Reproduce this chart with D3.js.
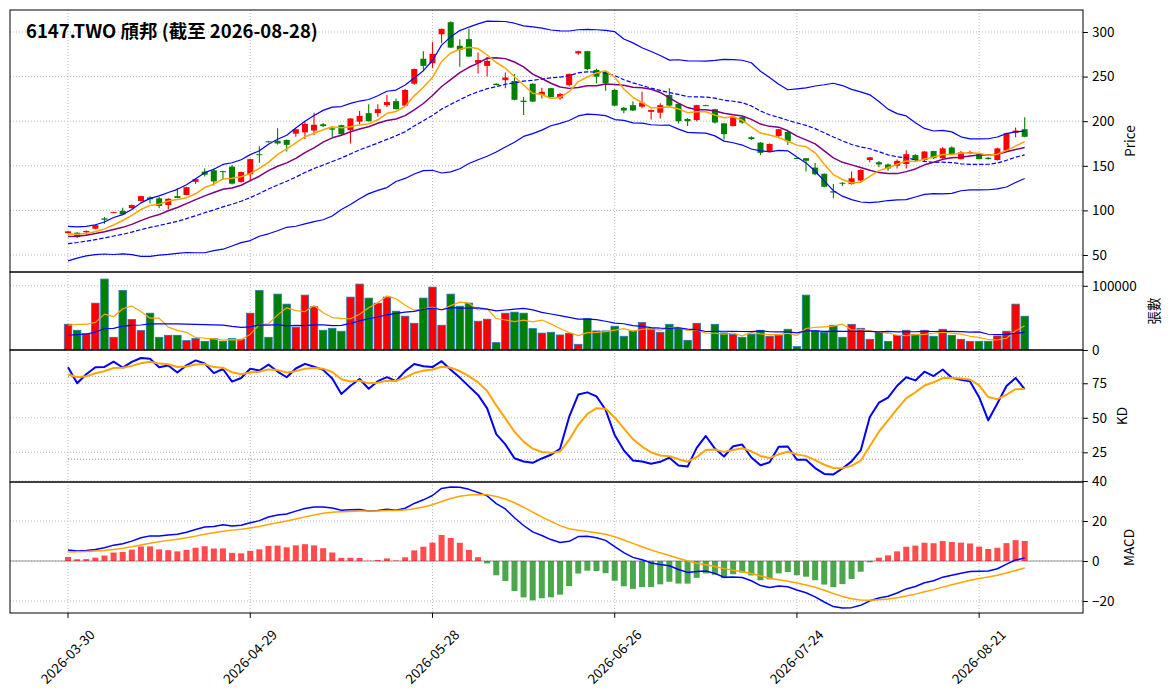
<!DOCTYPE html>
<html>
<head>
<meta charset="utf-8">
<script src="https://cdn.jsdelivr.net/npm/d3@7/dist/d3.min.js"></script>
<style>
  body { margin: 0; background: #fff; }
  svg text { font-family: "Noto Sans CJK TC", "Noto Sans", sans-serif; }
</style>
</head>
<body>
<svg id="chart" width="1171" height="698"></svg>
<script>
// ---------- data ----------
var holidays = ["2026-04-03", "2026-04-06", "2026-05-01", "2026-06-19"];
var tickLabels = ["2026-03-30", "2026-04-29", "2026-05-28", "2026-06-26", "2026-07-24", "2026-08-21"];

var open = [74.5,75,75.5,79.5,91,97.5,99.5,102.5,110.5,114.5,
  113.5,106,116,117.3,132,143.5,145,144,149,132,
  140.5,163,177.5,178,179,186,187.5,189.5,196.5,192,
  195.5,190,199.5,209,209,218,222.5,217.5,242,270,
  265,297.5,311,284.5,292,265.5,262,242,246,245,
  223,242,229.5,237,225.7,240.5,276,278.5,257.5,255.5,
  235,215,218,216.3,210.5,209.5,229.5,219.5,202.5,201.3,
  218,213.5,197.5,194.5,204.5,182,176,166,183.5,188,
  158.7,158.5,148,141,121.5,131,129.5,133.5,156.5,154,
  151.5,150,152,162,156.5,166.5,158.5,170.5,157.5,165,
  163,159,156.5,167,187,191];
var high = [77,75.5,77.5,84,92.5,98.5,103,106.5,116.5,116,
  115,113.5,125,126.5,135.5,147,147,144.5,151,143.5,
  158,172,178,192,179.5,191.5,200,209.5,198,193.5,
  196,203.5,211.5,219,219,229.5,225.5,236,259,278.5,
  289,304,312,292,304,277,272,242.5,254.5,253,
  227,242.5,237.5,237.5,232,253.5,279,279,259,256,
  236,216,222.5,233,213,220,237,220,203.5,218.5,
  218.5,214,198,205.5,205,183,176.5,175,191.5,189,
  159,158.7,153,141.5,129.5,131.5,143.5,146,160,155.5,
  152.5,157,167.5,163,166.5,167,171,172,166.5,167,
  164,160,170.5,187,193,204.5];
var low = [74,69,72,79,85,97,95,102,110,108,
  102.5,101,113.5,117,129.5,138,128,134,129,131,
  134,153.5,176,174,166,182.5,180,184.5,193.5,182.5,
  183.5,175,195.5,199.5,205,216,213,217,241,257.5,
  259.5,287.5,282,261,272,253.5,250,240,237,223.5,
  207,221.5,225.5,226.5,224,239,274.5,257,242.5,234,
  217,209,211.5,214.5,202,203,217,197.5,194.5,200,
  217,197.5,179.5,194,197,179,162,165.5,182,173.3,
  158,143.5,139.5,126,113.5,127.5,129,133,154,148.5,
  144.5,147,147,155,155.5,157.5,157.5,162.5,157,163,
  157,157,156,166.5,182,182];
var close = [76.5,70,77,83.5,89.5,98,95.5,106,116,112.5,
  105,113,114,126,135,140,132.5,143,130,143,
  157.5,162,176.5,175,173.5,191,197,196,194.5,190.5,
  185.5,203,206,200,213.5,221.5,213.5,235,258.5,262,
  275.5,303.5,282.5,280,272.5,268.5,267.5,240.5,249,224,
  221.5,222,233,227,230.5,253,278.5,258.5,250,242.5,
  217.5,212,212,220.8,212.5,218,217.5,200,200,218,
  217.5,198.5,185.5,205,198.5,180,164.5,174.5,191,177.5,
  158.2,155.7,140.5,126.5,120,130.5,136,145.3,159.5,151.5,
  147,155.5,163,156.5,166,158.5,169.5,163,165,165.5,
  157.5,157.5,169.5,186.5,189.5,182.5];
var volume = [40100,30700,25500,72900,110400,19800,92700,47400,30200,57300,
  19800,22900,22900,14600,17700,13500,17700,13500,17700,16700,
  57300,92700,19800,87000,71400,35400,85400,67200,30700,33800,
  29200,82300,102600,80800,72900,82300,60400,52600,41600,80800,
  97900,38500,87000,68200,72900,44800,47900,11500,57300,58900,
  57300,33300,26300,27600,23400,26000,8900,49000,29700,29700,
  37000,21400,29700,42700,33300,27600,40000,33800,15100,41600,
  0,40000,26600,24000,19800,24500,30700,21400,22900,32300,
  5200,85400,29700,27600,38500,19800,40000,33800,16700,28100,
  13500,22900,30700,24500,30700,21400,32300,22900,16700,13500,
  13500,13500,21900,29200,71400,52600];

// sessions before the first visible day (only feed the moving windows)
var preClose = [45,47,50,52,54,56,58,60,62,64,66,68,64,70,72,71,73,74,73];
var preHigh  = [47,49,52,54,56,58,60,62,64,66,68,70,67,72,74,73,75,76,75];
var preLow   = [43,45,48,50,52,54,56,58,60,62,64,66,62.5,68,70,69,71,72,71];
var preVol   = [10000,8000,12000,8000,6000,22000,24000,21000,23000,20000,
  25000,22000,23000,21000,22500,23700,25000,57900,45800];
var kdStart = [86.6, 81.5];          // K, D on the first day
var macdStart = [70.5, 65, 4.5];     // EMA12, EMA26, signal on the first day

// ---------- dates ----------
function tradingDays(start, end, skip) {
  var out = [];
  var d = new Date(start + "T00:00:00Z"), last = new Date(end + "T00:00:00Z");
  while (d <= last) {
    var s = d.toISOString().slice(0, 10), wd = d.getUTCDay();
    if (wd !== 0 && wd !== 6 && skip.indexOf(s) < 0) out.push(s);
    d.setUTCDate(d.getUTCDate() + 1);
  }
  return out;
}
var dates = tradingDays("2026-03-30", "2026-08-28", holidays);
var n = close.length;

// ---------- indicators ----------
var P = preClose.length;
var cAll = preClose.concat(close), hAll = preHigh.concat(high),
    lAll = preLow.concat(low), vAll = preVol.concat(volume);
function rolling(arr, win, fn) {
  return d3.range(n).map(function(i) { return fn(arr.slice(P + i - win + 1, P + i + 1)); });
}
var ma5 = rolling(cAll, 5, d3.mean),
    ma10 = rolling(cAll, 10, d3.mean),
    ma20 = rolling(cAll, 20, d3.mean),
    sd20 = rolling(cAll, 20, d3.deviation);
var bbUp = ma20.map(function(m, i) { return m + 2 * sd20[i]; }),
    bbDn = ma20.map(function(m, i) { return m - 2 * sd20[i]; });
var vma5 = rolling(vAll, 5, d3.mean),
    vma20 = rolling(vAll, 20, d3.mean);

var kVal = [kdStart[0]], dVal = [kdStart[1]];
for (var i = 1; i < n; i++) {
  var hh = d3.max(hAll.slice(P + i - 8, P + i + 1)),
      ll = d3.min(lAll.slice(P + i - 8, P + i + 1));
  var rsv = hh === ll ? 50 : (close[i] - ll) / (hh - ll) * 100;
  kVal.push(kVal[i - 1] * 2 / 3 + rsv / 3);
  dVal.push(dVal[i - 1] * 2 / 3 + kVal[i] / 3);
}

var e12 = macdStart[0], e26 = macdStart[1];
var dif = [e12 - e26], dea = [macdStart[2]];
for (var j = 1; j < n; j++) {
  e12 += (close[j] - e12) * 2 / 13;
  e26 += (close[j] - e26) * 2 / 27;
  dif.push(e12 - e26);
  dea.push(dea[j - 1] + (dif[j] - dea[j - 1]) * 2 / 10);
}
var osc = dif.map(function(v, i) { return 2 * (v - dea[i]); });

// ---------- layout ----------
var svg = d3.select("#chart");
var left = 10, right = 1083;
var RED = "#ff0000", GREEN = "#008000";
var x = d3.scaleLinear().domain([-6.37, 111.4]).range([left, right]);
var bw = x(1) - x(0);
var tickIdx = tickLabels.map(function(t) { return dates.indexOf(t); });
var idx = d3.range(n);
function up(i) { return close[i] >= open[i]; }

function makePanel(name, top, bottom, domain, ticks) {
  var y = d3.scaleLinear().domain(domain).range([bottom, top]);
  svg.append("clipPath").attr("id", "clip-" + name)
    .append("rect").attr("x", left).attr("y", top).attr("width", right - left).attr("height", bottom - top);
  var grid = svg.append("g").attr("stroke", "#a8a8a8").attr("stroke-width", 0.8).attr("stroke-dasharray", "1,2");
  grid.selectAll(null).data(tickIdx).join("line")
    .attr("x1", function(d) { return x(d); }).attr("x2", function(d) { return x(d); })
    .attr("y1", top).attr("y2", bottom);
  grid.selectAll(null).data(ticks).join("line")
    .attr("x1", left).attr("x2", right)
    .attr("y1", function(d) { return y(d); }).attr("y2", function(d) { return y(d); });
  var body = svg.append("g").attr("clip-path", "url(#clip-" + name + ")");
  return { y: y, body: body, top: top, bottom: bottom, ticks: ticks };
}

function finishPanel(p, fmt, label, labelX) {
  svg.append("rect").attr("x", left).attr("y", p.top).attr("width", right - left)
    .attr("height", p.bottom - p.top).attr("fill", "none").attr("stroke", "#000").attr("stroke-width", 1);
  var ax = svg.append("g").attr("transform", "translate(" + right + ",0)")
    .call(d3.axisRight(p.y).tickValues(p.ticks).tickSize(4.9).tickPadding(4).tickFormat(fmt));
  ax.select(".domain").remove();
  ax.attr("font-size", 13.5);
  ax.selectAll("text").attr("fill", "#000");
  ax.selectAll("line").attr("stroke", "#000");
  var cy = (p.top + p.bottom) / 2;
  svg.append("text").attr("transform", "translate(" + labelX + "," + cy + ") rotate(-90)")
    .attr("text-anchor", "middle").attr("dominant-baseline", "central")
    .attr("font-size", 13.5).attr("fill", "#000").text(label);
}

function drawLine(p, vals, color, w, dash) {
  p.body.append("path").datum(vals)
    .attr("fill", "none").attr("stroke", color).attr("stroke-width", w)
    .attr("stroke-linejoin", "round").attr("stroke-dasharray", dash || null)
    .attr("d", d3.line().x(function(d, i) { return x(i); }).y(function(d) { return p.y(d); }));
}

// ---------- price panel ----------
var pp = makePanel("price", 10, 272, [30.94, 324.66], [50, 100, 150, 200, 250, 300]);
pp.body.selectAll(".wick").data(idx).join("line")
  .attr("x1", function(i) { return x(i); }).attr("x2", function(i) { return x(i); })
  .attr("y1", function(i) { return pp.y(high[i]); }).attr("y2", function(i) { return pp.y(low[i]); })
  .attr("stroke", function(i) { return up(i) ? RED : GREEN; }).attr("stroke-width", 1.1);
pp.body.selectAll(".candle").data(idx).join("rect")
  .attr("x", function(i) { return x(i) - bw * 0.33; })
  .attr("width", bw * 0.66)
  .attr("y", function(i) { return pp.y(Math.max(open[i], close[i])); })
  .attr("height", function(i) { return Math.max(1, Math.abs(pp.y(open[i]) - pp.y(close[i]))); })
  .attr("fill", function(i) { return up(i) ? RED : GREEN; });
drawLine(pp, bbUp, "#0000ff", 1.2);
drawLine(pp, bbDn, "#0000ff", 1.2);
drawLine(pp, ma20, "#0000ff", 1.2, "4.4,1.9");
drawLine(pp, ma10, "#800080", 1.5);
drawLine(pp, ma5, "#ffa500", 1.5);
finishPanel(pp, d3.format("d"), "Price", 1129);

// ---------- volume panel ----------
var vp = makePanel("vol", 272, 350, [0, d3.max(volume) * 1.1], [0, 100000]);
vp.body.selectAll(".vbar").data(idx).join("rect")
  .attr("x", function(i) { return x(i) - bw * 0.41; })
  .attr("width", bw * 0.82)
  .attr("y", function(i) { return vp.y(volume[i]); })
  .attr("height", function(i) { return vp.y(0) - vp.y(volume[i]); })
  .attr("fill", function(i) { return up(i) ? RED : GREEN; })
  .attr("stroke", "#1f77b4").attr("stroke-width", 0.8);
drawLine(vp, vma5, "#ffa500", 1.2);
drawLine(vp, vma20, "#0000ff", 1.2);
finishPanel(vp, d3.format("d"), "張數", 1153);

// ---------- KD panel ----------
var kp = makePanel("kd", 350, 482, [3.5, 99.1], [25, 50, 75]);
kp.body.selectAll(".lvl").data([80, 20]).join("line")
  .attr("x1", x(0)).attr("x2", x(n - 1))
  .attr("y1", function(d) { return kp.y(d); }).attr("y2", function(d) { return kp.y(d); })
  .attr("stroke", "#888").attr("stroke-width", 0.9).attr("stroke-dasharray", "1,2");
drawLine(kp, kVal, "#0000ff", 2);
drawLine(kp, dVal, "#ffa500", 2);
finishPanel(kp, d3.format("d"), "KD", 1121);

// ---------- MACD panel ----------
var mp = makePanel("macd", 482, 613, [-26, 39.5], [-20, 0, 20, 40]);
mp.body.append("line").attr("x1", left).attr("x2", right)
  .attr("y1", mp.y(0)).attr("y2", mp.y(0)).attr("stroke", "#808080").attr("stroke-width", 0.8);
mp.body.selectAll(".osc").data(idx).join("rect")
  .attr("x", function(i) { return x(i) - bw * 0.33; })
  .attr("width", bw * 0.66)
  .attr("y", function(i) { return mp.y(Math.max(0, osc[i])); })
  .attr("height", function(i) { return Math.abs(mp.y(osc[i]) - mp.y(0)); })
  .attr("fill", function(i) { return osc[i] >= 0 ? RED : GREEN; })
  .attr("fill-opacity", 0.7);
drawLine(mp, dif, "#0000ff", 1.5);
drawLine(mp, dea, "#ffa500", 1.5);
finishPanel(mp, d3.format("d"), "MACD", 1128);

// ---------- x axis ----------
var xt = svg.append("g");
xt.selectAll("line").data(tickIdx).join("line")
  .attr("x1", function(d) { return x(d); }).attr("x2", function(d) { return x(d); })
  .attr("y1", 613).attr("y2", 617.9).attr("stroke", "#000");
xt.selectAll("text").data(tickIdx).join("text")
  .attr("transform", function(d) { return "translate(" + (x(d) - 1) + ",656) rotate(-45)"; })
  .attr("text-anchor", "middle").attr("dominant-baseline", "central")
  .attr("font-size", 13.5).attr("fill", "#000")
  .text(function(d) { return dates[d]; });

// ---------- title ----------
svg.append("text").attr("x", 26).attr("y", 38)
  .attr("font-size", 18.5).attr("font-weight", "bold").attr("fill", "#000")
  .text("6147.TWO 頎邦 (截至 " + dates[n - 1] + ")");
</script>
</body>
</html>
